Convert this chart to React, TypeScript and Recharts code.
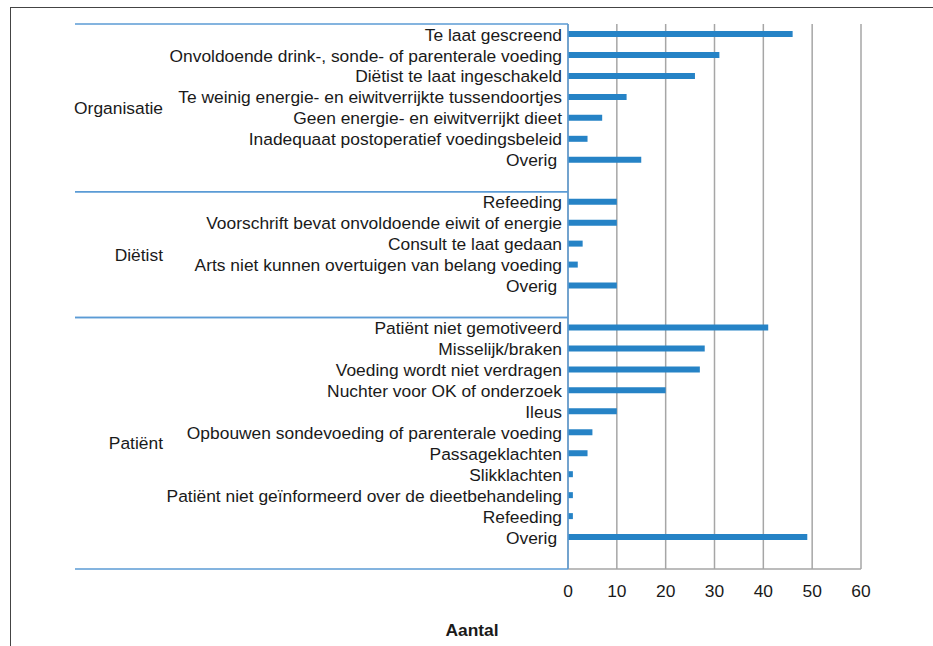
import React from "react";
import { BarChart, Bar, XAxis, YAxis, CartesianGrid } from "recharts";

const groupNames = ["Organisatie", "Diëtist", "Patiënt"];

const organisatieLabels = [
  "Te laat gescreend",
  "Onvoldoende drink-, sonde- of parenterale voeding",
  "Diëtist te laat ingeschakeld",
  "Te weinig energie- en eiwitverrijkte tussendoortjes",
  "Geen energie- en eiwitverrijkt dieet",
  "Inadequaat postoperatief voedingsbeleid",
  "Overig ",
];
const organisatieValues = [46, 31, 26, 12, 7, 4, 15];

const dietistLabels = [
  "Refeeding",
  "Voorschrift bevat onvoldoende eiwit of energie",
  "Consult te laat gedaan",
  "Arts niet kunnen overtuigen van belang voeding",
  "Overig ",
];
const dietistValues = [10, 10, 3, 2, 10];

const patientLabels = [
  "Patiënt niet gemotiveerd",
  "Misselijk/braken",
  "Voeding wordt niet verdragen",
  "Nuchter voor OK of onderzoek",
  "Ileus",
  "Opbouwen sondevoeding of parenterale voeding",
  "Passageklachten",
  "Slikklachten",
  "Patiënt niet geïnformeerd over de dieetbehandeling",
  "Refeeding",
  "Overig ",
];
const patientValues = [41, 28, 27, 20, 10, 5, 4, 1, 1, 1, 49];

const xTicks = [0, 10, 20, 30, 40, 50, 60];

const WIDTH = 933;
const HEIGHT = 646;
const MARGIN = { top: 24, right: 72, bottom: 37, left: 0 };
const X_AXIS_H = 40;
const AXIS_X = 568;
const PLOT_H = HEIGHT - MARGIN.top - MARGIN.bottom - X_AXIS_H;

const FONT = "'Liberation Sans', Arial, Helvetica, sans-serif";
const FONT_SIZE = 17.4;
const BLUE_LINE = "#5b9bd5";
const GRID = "#a6a6a6";
const BAR = "#2683c6";
const TEXT = "#1a1a1a";

type Row = {
  key: string;
  label: string;
  value: number | null;
  group: number;
  pos: number;
  size: number;
};

const groups = [
  { labels: organisatieLabels, values: organisatieValues },
  { labels: dietistLabels, values: dietistValues },
  { labels: patientLabels, values: patientValues },
];

// one empty slot after each group, like the original
const rows: Row[] = [];
groups.forEach((g, gi) => {
  const size = g.labels.length + 1;
  g.labels.forEach((label, i) =>
    rows.push({ key: `${gi}-${i}`, label, value: g.values[i], group: gi, pos: i, size })
  );
  rows.push({ key: `${gi}-gap`, label: "", value: null, group: gi, pos: g.labels.length, size });
});

function CategoryTick(props: any) {
  const { y, payload } = props;
  const row = rows.find((r) => r.key === payload.value);
  if (!row) return null;
  const band = PLOT_H / rows.length;
  const top = y - band / 2;
  return (
    <g>
      {row.pos === 0 && (
        <line x1={75} x2={AXIS_X} y1={top} y2={top} stroke={BLUE_LINE} strokeWidth={1.5} />
      )}
      {row.pos === 0 && (
        <text
          x={163}
          y={top + (row.size * band) / 2}
          dy="0.35em"
          textAnchor="end"
          fontSize={FONT_SIZE}
          fontFamily={FONT}
          fill={TEXT}
        >
          {groupNames[row.group]}
        </text>
      )}
      {row.label && (
        <text
          x={AXIS_X - 6}
          y={y}
          dy="0.35em"
          textAnchor="end"
          fontSize={FONT_SIZE}
          fontFamily={FONT}
          fill={TEXT}
          xmlSpace="preserve"
          style={{ whiteSpace: "pre" }}
        >
          {row.label}
        </text>
      )}
      {row.pos === row.size - 1 && (
        <line
          x1={75}
          x2={AXIS_X}
          y1={y + band / 2}
          y2={y + band / 2}
          stroke={BLUE_LINE}
          strokeWidth={1.5}
        />
      )}
    </g>
  );
}

export default function App() {
  return (
    <div style={{ position: "relative", width: WIDTH, height: HEIGHT, fontFamily: FONT }}>
      <style>{"body{margin:0}"}</style>
      <div
        style={{
          position: "absolute",
          left: 10,
          top: 7,
          width: WIDTH - 10,
          height: HEIGHT - 7,
          borderTop: "1.5px solid #444",
          borderLeft: "1.5px solid #444",
          boxSizing: "border-box",
        }}
      />
      <BarChart width={WIDTH} height={HEIGHT} data={rows} layout="vertical" margin={MARGIN}>
        <CartesianGrid horizontal={false} stroke={GRID} strokeWidth={1.5} />
        <XAxis
          type="number"
          domain={[0, 60]}
          ticks={xTicks}
          height={X_AXIS_H}
          axisLine={{ stroke: GRID, strokeWidth: 1.5 }}
          tickLine={false}
          tickMargin={10}
          tick={{ fontSize: FONT_SIZE, fill: TEXT, fontFamily: FONT }}
        />
        <YAxis
          type="category"
          dataKey="key"
          width={AXIS_X}
          interval={0}
          axisLine={{ stroke: BLUE_LINE, strokeWidth: 1.5 }}
          tickLine={false}
          tick={<CategoryTick />}
        />
        <Bar dataKey="value" fill={BAR} barSize={6} isAnimationActive={false} />
      </BarChart>
      <div
        style={{
          position: "absolute",
          left: 372,
          width: 200,
          top: 622,
          textAlign: "center",
          fontWeight: "bold",
          fontSize: FONT_SIZE,
          lineHeight: "17px",
          color: TEXT,
        }}
      >
        Aantal
      </div>
    </div>
  );
}
